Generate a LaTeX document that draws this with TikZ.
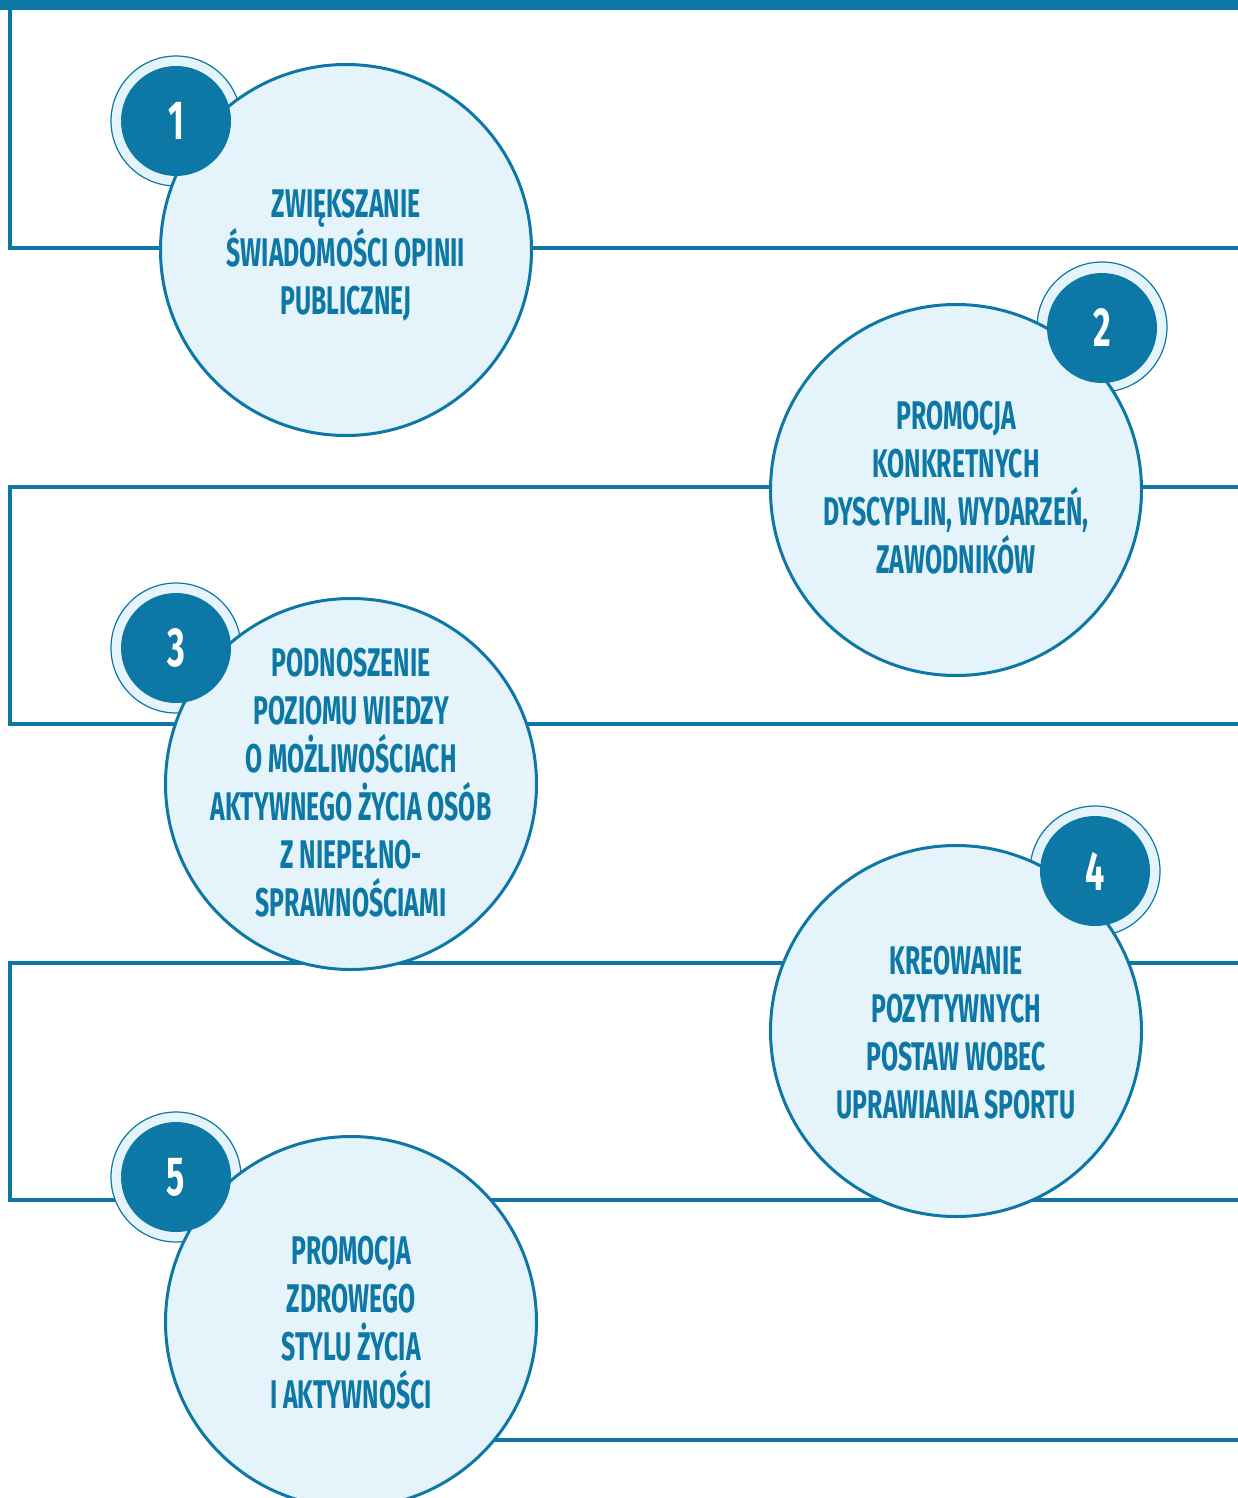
\documentclass[tikz,border=0pt]{standalone}
\usepackage{fontspec}
\newfontfamily\condf[FakeStretch=0.62]{Fira Sans}
\definecolor{dblue}{RGB}{13,119,165}
\definecolor{lblue}{RGB}{229,244,251}
\begin{document}
\begin{tikzpicture}[x=1pt,y=-1pt,
  conn/.style={draw=dblue,line width=4pt},
  bigc/.style={circle,draw=dblue,fill=lblue,line width=3pt,minimum size=371pt,inner sep=0pt},
  txt/.style={align=center,text=dblue,inner sep=0pt,font=\condf\bfseries\fontsize{40}{48}\selectfont},
  ringc/.style={circle,draw=dblue,fill=lblue,line width=1.2pt,minimum size=130pt,inner sep=0pt},
  badge/.style={circle,fill=dblue,minimum size=110pt,inner sep=0pt,text=white,font=\condf\bfseries\fontsize{55}{55}\selectfont}]
\useasboundingbox (0,0) rectangle (1238,1498);
\fill[dblue] (0,0) rectangle (1238,10);
% connector coordinates
\coordinate (a0) at (10,8);
\coordinate (a1) at (10,248);
\coordinate (a2) at (1238,248);
\coordinate (b0) at (1238,487);
\coordinate (b1) at (10,487);
\coordinate (b2) at (10,724);
\coordinate (b3) at (1238,724);
\coordinate (e0) at (1238,963);
\coordinate (e1) at (10,963);
\coordinate (e2) at (10,1200);
\coordinate (e3) at (1238,1200);
\coordinate (d0) at (351,1440);
\coordinate (d1) at (1238,1440);
\draw[conn] (a0) -- (a1) -- (a2);
\draw[conn] (b0) -- (b1) -- (b2) -- (b3);
\draw[conn] (e0) -- (e1) -- (e2) -- (e3);
\draw[conn] (d0) -- (d1);
% rings behind the circles
\node[ringc] (r1) at (176,121) {};
\node[ringc] (r2) at (1102,327) {};
\node[ringc] (r3) at (176,648) {};
\node[ringc] (r4) at (1095,871) {};
\node[ringc] (r5) at (176,1177) {};
% main circles
\node[bigc] (c1) at (346,250) {};
\node[bigc] (c2) at (956,490) {};
\node[bigc] (c3) at (351,784) {};
\node[bigc] (c4) at (956,1031) {};
\node[bigc] (c5) at (351,1322) {};
% texts
\node[txt] (t1) at ([yshift=-5pt]c1.center) {ZWIĘKSZANIE\\ŚWIADOMOŚCI OPINII\\PUBLICZNEJ};
\node[txt] (t2) at ([yshift=2pt]c2.center) {PROMOCJA\\KONKRETNYCH\\DYSCYPLIN, WYDARZEŃ,\\ZAWODNIKÓW};
\node[txt] (t3) at ([yshift=1pt]c3.center) {PODNOSZENIE\\POZIOMU WIEDZY\\O MOŻLIWOŚCIACH\\AKTYWNEGO ŻYCIA OSÓB\\Z NIEPEŁNO-\\SPRAWNOŚCIAMI};
\node[txt] (t4) at ([yshift=-2pt]c4.center) {KREOWANIE\\POZYTYWNYCH\\POSTAW WOBEC\\UPRAWIANIA SPORTU};
\node[txt] (t5) at ([yshift=-1pt]c5.center) {PROMOCJA\\ZDROWEGO\\STYLU ŻYCIA\\I AKTYWNOŚCI};
% number badges
\node[badge] (b1n) at (176,121) {1};
\node[badge] (b2n) at (1102,328) {2};
\node[badge] (b3n) at (176,648) {3};
\node[badge] (b4n) at (1095,871) {4};
\node[badge] (b5n) at (176,1177) {5};
\end{tikzpicture}
\end{document}
